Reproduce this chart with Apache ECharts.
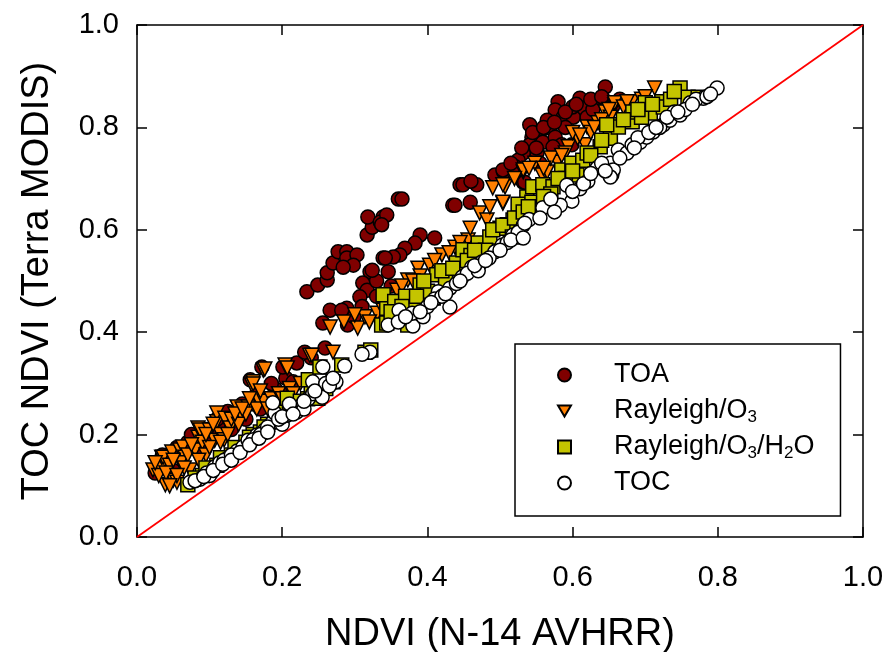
<!DOCTYPE html>
<html>
<head>
<meta charset="utf-8">
<script src="https://cdn.jsdelivr.net/npm/echarts@6/dist/echarts.min.js"></script>
<style>
  html, body { margin: 0; padding: 0; background: #fff; }
  #main { width: 889px; height: 652px; }
</style>
</head>
<body>
<div id="main"></div>
<script>
// values, [AVHRR NDVI, MODIS NDVI]
var toa = [
  [0.03,0.14],[0.04,0.15],[0.05,0.13],[0.06,0.165],[0.08,0.18],[0.09,0.17],[0.1,0.2],[0.12,0.22],
  [0.13,0.21],[0.14,0.24],[0.15,0.23],[0.16,0.26],[0.17,0.25],[0.18,0.27],[0.2,0.28],[0.19,0.29],
  [0.025,0.125],[0.035,0.16],[0.055,0.175],[0.07,0.185],[0.075,0.2],[0.095,0.21],[0.11,0.23],
  [0.125,0.245],[0.145,0.26],[0.165,0.28],[0.185,0.3],[0.205,0.31],[0.22,0.34],[0.24,0.35],
  [0.156,0.307],[0.172,0.332],[0.201,0.332],[0.215,0.303],[0.231,0.361],[0.259,0.369],
  [0.256,0.418],[0.266,0.443],[0.289,0.447],[0.29,0.414],[0.282,0.443],[0.299,0.43],[0.234,0.479],
  [0.249,0.492],[0.262,0.502],[0.262,0.516],[0.27,0.535],[0.277,0.557],[0.289,0.557],[0.289,0.545],
  [0.303,0.551],[0.298,0.531],[0.284,0.527],[0.317,0.59],[0.324,0.605],[0.318,0.625],[0.339,0.625],
  [0.335,0.615],[0.321,0.518],[0.311,0.496],[0.317,0.482],[0.307,0.469],[0.33,0.5],[0.339,0.545],
  [0.346,0.518],[0.36,0.66],[0.365,0.66],[0.344,0.629],[0.337,0.61],[0.39,0.59],[0.41,0.584],
  [0.383,0.574],[0.369,0.564],[0.362,0.551],[0.353,0.547],[0.342,0.545],[0.324,0.521],[0.445,0.688],
  [0.435,0.648],[0.438,0.648],[0.459,0.654],[0.449,0.688],[0.468,0.688],[0.46,0.695],[0.493,0.707],
  [0.505,0.713],[0.532,0.693],[0.33,0.47],[0.31,0.45],[0.35,0.49],
  [0.645,0.879],[0.61,0.857],[0.58,0.85],[0.576,0.834],[0.614,0.838],[0.634,0.848],[0.587,0.82],
  [0.601,0.82],[0.565,0.814],[0.541,0.805],[0.569,0.799],[0.555,0.791],[0.544,0.781],[0.541,0.766],
  [0.559,0.771],[0.576,0.781],[0.585,0.766],[0.573,0.762],[0.551,0.75],[0.555,0.73],[0.532,0.75],
  [0.525,0.736],[0.521,0.723],[0.534,0.693],[0.504,0.717],[0.599,0.766],[0.647,0.85],[0.655,0.84],
  [0.62,0.82],[0.59,0.8],[0.6,0.84],[0.628,0.835],[0.665,0.855],
  [0.53,0.76],[0.545,0.79],[0.56,0.8],[0.575,0.81],[0.59,0.83],[0.605,0.845],[0.625,0.855],
  [0.64,0.86],[0.515,0.73],[0.55,0.76]
];
var rayO3 = [
  [0.022,0.131],[0.032,0.135],[0.034,0.156],[0.036,0.156],[0.039,0.102],[0.048,0.166],[0.05,0.111],
  [0.055,0.107],[0.059,0.17],[0.063,0.176],[0.066,0.156],[0.073,0.131],[0.084,0.195],[0.084,0.213],
  [0.087,0.209],[0.1,0.209],[0.107,0.189],[0.11,0.225],[0.11,0.242],[0.121,0.232],[0.128,0.213],
  [0.138,0.254],[0.145,0.234],[0.153,0.254],[0.158,0.297],[0.16,0.303],[0.167,0.268],[0.174,0.326],
  [0.176,0.328],[0.16,0.299],[0.204,0.336],[0.207,0.33],[0.238,0.355],[0.241,0.355],[0.27,0.361],
  [0.03,0.12],[0.045,0.14],[0.06,0.145],[0.07,0.16],[0.08,0.17],[0.09,0.185],[0.095,0.16],
  [0.115,0.2],[0.13,0.23],[0.14,0.22],[0.15,0.24],[0.165,0.25],[0.175,0.265],[0.185,0.27],
  [0.195,0.28],[0.12,0.19],[0.1,0.175],[0.21,0.29],[0.225,0.3],
  [0.025,0.145],[0.04,0.125],[0.05,0.15],[0.065,0.135],[0.075,0.18],[0.085,0.15],[0.095,0.2],
  [0.105,0.22],[0.115,0.185],[0.125,0.2],[0.135,0.24],[0.145,0.25],[0.155,0.27],[0.17,0.285],
  [0.18,0.25],[0.19,0.26],[0.2,0.27],[0.215,0.28],[0.055,0.12],[0.045,0.1],
  [0.266,0.41],[0.304,0.408],[0.314,0.43],[0.3,0.434],[0.331,0.437],[0.342,0.473],[0.344,0.443],
  [0.339,0.443],[0.358,0.482],[0.373,0.502],[0.387,0.525],[0.403,0.531],[0.42,0.551],[0.438,0.566],
  [0.456,0.58],[0.459,0.603],[0.472,0.633],[0.482,0.619],[0.486,0.645],[0.504,0.652],[0.49,0.682],
  [0.507,0.684],[0.532,0.713],[0.39,0.51],[0.41,0.54],[0.43,0.555],[0.445,0.575],[0.35,0.46],
  [0.365,0.49],[0.32,0.42],[0.285,0.42],[0.38,0.5],
  [0.504,0.688],[0.504,0.654],[0.532,0.717],[0.548,0.73],[0.558,0.707],[0.565,0.713],[0.579,0.732],
  [0.594,0.762],[0.607,0.779],[0.617,0.766],[0.62,0.801],[0.635,0.809],[0.658,0.844],[0.645,0.83],
  [0.713,0.877],[0.682,0.85],[0.658,0.848],[0.652,0.82],[0.64,0.815],[0.59,0.75],[0.6,0.79],
  [0.57,0.74],[0.52,0.7],[0.625,0.79],[0.67,0.84],[0.695,0.855],
  [0.54,0.72],[0.56,0.72],[0.585,0.745],[0.61,0.785],[0.63,0.8],[0.65,0.835],[0.675,0.85],[0.7,0.86]
];
var rayO3H2O = [
  [0.07,0.102],[0.09,0.12],[0.11,0.14],[0.13,0.16],[0.15,0.185],[0.16,0.2],[0.17,0.205],[0.18,0.22],
  [0.19,0.225],[0.2,0.245],[0.22,0.26],[0.235,0.27],[0.207,0.271],[0.249,0.271],[0.236,0.307],
  [0.27,0.303],[0.252,0.332],[0.282,0.336],[0.314,0.361],[0.322,0.365],[0.1,0.13],[0.12,0.15],[0.14,0.17],
  [0.08,0.115],[0.095,0.135],[0.115,0.155],[0.135,0.175],[0.155,0.195],[0.175,0.215],[0.195,0.235],
  [0.21,0.25],[0.225,0.265],[0.24,0.28],[0.26,0.29],
  [0.337,0.414],[0.344,0.418],[0.373,0.414],[0.344,0.447],[0.339,0.473],[0.39,0.492],[0.408,0.467],
  [0.413,0.512],[0.44,0.535],[0.449,0.561],[0.47,0.574],[0.486,0.586],[0.5,0.603],[0.518,0.619],
  [0.518,0.594],[0.532,0.639],[0.537,0.664],[0.36,0.43],[0.38,0.45],[0.4,0.48],[0.425,0.5],
  [0.46,0.55],[0.48,0.56],[0.355,0.46],[0.37,0.47],
  [0.35,0.44],[0.365,0.45],[0.385,0.47],[0.395,0.5],[0.42,0.52],[0.435,0.525],[0.455,0.54],
  [0.465,0.56],[0.49,0.6],[0.51,0.61],[0.525,0.65],
  [0.504,0.609],[0.52,0.623],[0.532,0.635],[0.544,0.654],[0.545,0.684],[0.559,0.688],[0.573,0.684],
  [0.585,0.717],[0.599,0.73],[0.606,0.707],[0.614,0.736],[0.638,0.762],[0.652,0.779],[0.661,0.805],
  [0.517,0.586],[0.539,0.645],[0.748,0.877],[0.723,0.85],[0.7,0.848],[0.682,0.811],[0.663,0.801],
  [0.707,0.828],[0.683,0.83],[0.759,0.859],[0.773,0.859],[0.647,0.805],[0.725,0.84],[0.62,0.75],
  [0.59,0.7],[0.57,0.67],[0.695,0.82],
  [0.56,0.665],[0.58,0.7],[0.6,0.715],[0.625,0.745],[0.64,0.775],[0.67,0.815],[0.69,0.835],
  [0.71,0.845],[0.735,0.855],[0.74,0.87]
];
var toc = [
  [0.073,0.107],[0.087,0.113],[0.096,0.125],[0.107,0.137],[0.114,0.145],[0.125,0.154],[0.138,0.168],
  [0.146,0.176],[0.153,0.189],[0.165,0.199],[0.176,0.209],[0.186,0.223],[0.19,0.242],[0.187,0.262],
  [0.2,0.22],[0.207,0.238],[0.214,0.252],[0.22,0.244],[0.228,0.26],[0.236,0.27],[0.242,0.28],
  [0.25,0.29],[0.255,0.273],[0.242,0.303],[0.274,0.303],[0.256,0.332],[0.286,0.334],[0.321,0.361],
  [0.31,0.357],[0.1,0.12],[0.12,0.15],[0.13,0.16],[0.16,0.19],[0.17,0.2],[0.18,0.215],[0.195,0.23],
  [0.21,0.26],[0.23,0.25],[0.26,0.3],
  [0.08,0.11],[0.092,0.118],[0.105,0.13],[0.118,0.142],[0.13,0.15],[0.142,0.165],[0.155,0.18],
  [0.168,0.193],[0.18,0.205],[0.2,0.235],[0.215,0.24],[0.23,0.265],[0.245,0.285],[0.265,0.295],[0.27,0.31],
  [0.346,0.414],[0.38,0.412],[0.394,0.43],[0.431,0.449],[0.415,0.479],[0.431,0.486],[0.448,0.508],
  [0.461,0.527],[0.475,0.537],[0.493,0.557],[0.503,0.57],[0.518,0.59],[0.532,0.609],[0.361,0.443],
  [0.379,0.437],[0.4,0.45],[0.41,0.465],[0.44,0.495],[0.455,0.515],[0.47,0.52],[0.485,0.545],
  [0.51,0.575],[0.525,0.595],[0.54,0.62],[0.36,0.42],[0.37,0.43],[0.42,0.47],
  [0.39,0.44],[0.405,0.458],[0.425,0.475],[0.445,0.5],[0.465,0.53],[0.48,0.54],[0.5,0.56],[0.515,0.58],
  [0.592,0.687],[0.599,0.656],[0.583,0.648],[0.559,0.643],[0.555,0.623],[0.534,0.613],[0.532,0.584],
  [0.621,0.695],[0.634,0.721],[0.654,0.707],[0.652,0.73],[0.663,0.756],[0.675,0.75],[0.682,0.766],
  [0.693,0.771],[0.702,0.781],[0.711,0.791],[0.725,0.805],[0.734,0.814],[0.748,0.824],[0.762,0.848],
  [0.78,0.857],[0.799,0.877],[0.77,0.855],[0.656,0.717],[0.652,0.703],[0.61,0.68],[0.57,0.66],
  [0.6,0.675],[0.64,0.73],[0.69,0.78],[0.72,0.8],[0.74,0.83],[0.755,0.835],[0.785,0.86],[0.575,0.635],
  [0.615,0.69],[0.625,0.71],[0.645,0.715],[0.665,0.74],[0.685,0.76],[0.705,0.79],[0.715,0.8],
  [0.73,0.82],[0.745,0.83],[0.765,0.845],[0.79,0.865]
];
var oneToOne = [[0, 0], [1, 1]];
var ticks = [0, 0.2, 0.4, 0.6, 0.8, 1.0];

var font = '"Liberation Sans", Arial, sans-serif';
var chart = echarts.init(document.getElementById('main'));

function frameAxis(pos, show) {
  return {
    type: 'value', position: pos, min: ticks[0], max: ticks[ticks.length - 1], interval: 0.2,
    axisLine: { show: true, onZero: false, lineStyle: { color: '#000', width: 1.5 } },
    axisTick: { show: true, inside: true, length: 10, lineStyle: { color: '#000', width: 1.5 } },
    splitLine: { show: false },
    axisLabel: { show: show, color: '#000', fontFamily: font, fontSize: 29,
      formatter: function (v) { return v.toFixed(1); } }
  };
}

var xMain = frameAxis('bottom', true);
xMain.axisLabel.margin = 26;
xMain.name = 'NDVI (N-14 AVHRR)';
xMain.nameLocation = 'middle';
xMain.nameGap = 79;
xMain.nameTextStyle = { color: '#000', fontFamily: font, fontSize: 38 };

var yMain = frameAxis('left', true);
yMain.axisLabel.margin = 18;
yMain.name = 'TOC NDVI (Terra MODIS)';
yMain.nameLocation = 'middle';
yMain.nameGap = 80;
yMain.nameTextStyle = { color: '#000', fontFamily: font, fontSize: 38 };

function pts(name, data, symbol, color, rotate) {
  return {
    name: name, type: 'scatter', data: data, symbol: symbol, symbolSize: 14,
    symbolRotate: rotate || 0,
    itemStyle: { color: color, borderColor: '#000', borderWidth: 1.5, opacity: 1 },
    emphasis: { disabled: true }
  };
}

chart.setOption({
  animation: false,
  grid: { left: 137, right: 26, top: 25, bottom: 115, containLabel: false, outerBoundsMode: 'none' },
  xAxis: [xMain, frameAxis('top', false)],
  yAxis: [yMain, frameAxis('right', false)],
  legend: {
    orient: 'vertical', left: 515, top: 344,
    data: [
      { name: 'TOA' },
      { name: 'Rayleigh/O3', icon: 'path://M0,0L20,0L10,17.3Z' },
      { name: 'Rayleigh/O3/H2O' },
      { name: 'TOC' }
    ],
    itemWidth: 13, itemHeight: 13, itemGap: 6,
    padding: [16, 26, 18, 42],
    borderColor: '#000', borderWidth: 1.5,
    formatter: function (name) {
      return '{g| }' + name.replace(/O3/g, 'O{s|3}').replace(/H2/g, 'H{s|2}');
    },
    textStyle: {
      color: '#000', fontFamily: font, fontSize: 27, lineHeight: 30,
      rich: {
        g: { width: 38, fontSize: 27, lineHeight: 30 },
        s: { fontFamily: font, fontSize: 17, verticalAlign: 'bottom', lineHeight: 30 }
      }
    }
  },
  series: [
    {
      type: 'line', data: oneToOne, symbol: 'none', silent: true, z: 1,
      lineStyle: { color: '#ff0000', width: 1.8 }
    },
    pts('TOA', toa, 'circle', '#800000'),
    pts('Rayleigh/O3', rayO3, 'triangle', '#ff8000', 180),
    pts('Rayleigh/O3/H2O', rayO3H2O, 'rect', '#c4c400'),
    pts('TOC', toc, 'circle', '#ffffff')
  ]
});
</script>
</body>
</html>
